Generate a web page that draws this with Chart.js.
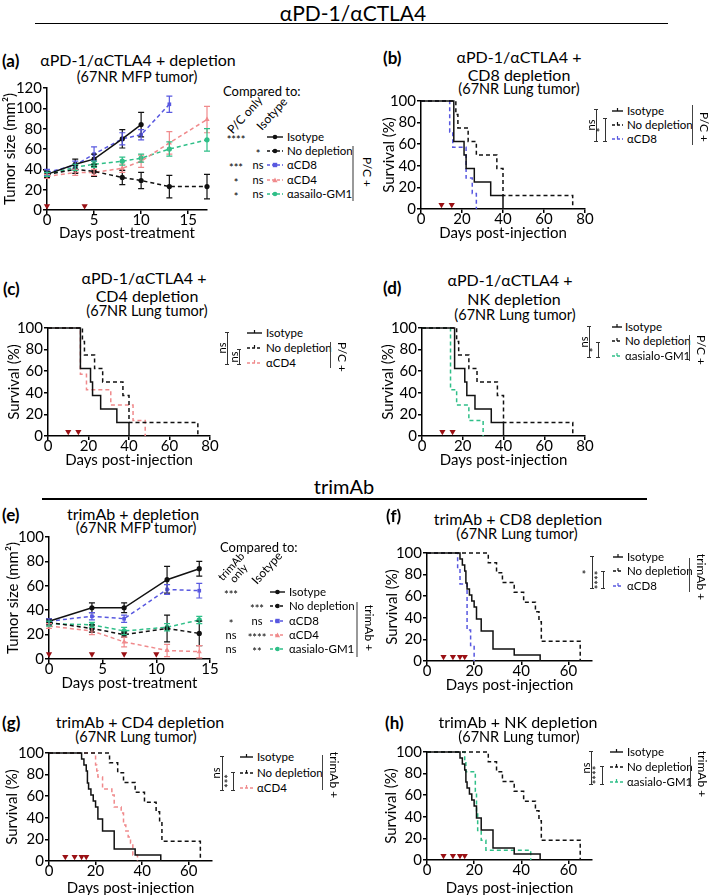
<!DOCTYPE html>
<html><head><meta charset="utf-8">
<script src="https://cdn.jsdelivr.net/npm/chart.js"></script>
<style>
html,body{margin:0;padding:0;background:#fff;overflow:hidden}
#fig{position:relative;width:709px;height:895px;overflow:hidden;font-family:Lato,"Open Sans",sans-serif;color:#000}
.t{position:absolute;white-space:nowrap;line-height:1;}
.cv{position:absolute}
.ln{position:absolute}
</style></head><body><div id="fig"></div>
<script>
// ================= DATA =================
// Panel (a): aPD-1/aCTLA4 + depletion, 67NR MFP tumour size (mm^2) vs days post-treatment
const aDays = [0, 3, 5, 8, 10, 13, 17];
const aIsotype = [35, 45, 50, 70, 84];
const aIsotypeSem = [3, 5, 5, 9, 12];
const aNoDepletion = [35, 40, 38, 32, 29, 23, 23];
const aNoDepletionSem = [3, 4, 5, 7, 8, 11, 12];
const aCD8 = [37, 44, 55, 70, 74, 104];
const aCD8Sem = [3, 4, 7, 6, 5, 8];
const aCD4 = [33, 37, 37, 41, 48, 66, 89];
const aCD4Sem = [2, 3, 3, 4, 6, 11, 13];
const aAsialo = [35, 42, 45, 48, 51, 60, 69];
const aAsialoSem = [2, 3, 3, 4, 4, 7, 11];
const aDoseDays = [0, 4];
const aTicksX = [0, 5, 10, 15];
const aTicksY = [0, 20, 40, 60, 80, 100, 120];

// Panel (e): trimAb + depletion, 67NR MFP tumour size
const eDays = [0, 4, 7, 11, 14];
const eIsotype = [31, 42, 42, 65, 74];
const eIsotypeSem = [2, 4, 4, 11, 6];
const eNoDepletion = [30, 25, 20, 25, 21];
const eNoDepletionSem = [2, 3, 2, 11, 10];
const eCD8 = [31, 35, 33, 57, 56];
const eCD8Sem = [2, 3, 3, 4, 6];
const eCD4 = [27, 23, 14, 7, 6];
const eCD4Sem = [2, 3, 4, 5, 5];
const eAsialo = [29, 28, 23, 26, 32];
const eAsialoSem = [2, 2, 3, 3, 3];
const eDoseDays = [0, 4, 7, 10];
const eTicksX = [0, 5, 10, 15];
const eTicksY = [0, 20, 40, 60, 80, 100];

// Survival (Kaplan-Meier) – aPD-1/aCTLA4 groups (panels b, c, d)
const pcIsotypeDays = [0, 16, 21, 22, 26, 34, 40];
const pcIsotypeSurv = [100, 62.5, 50, 37.5, 25, 12.5, 0];
const pcNoDepDays = [0, 17, 18, 23, 27, 37, 40, 74];
const pcNoDepSurv = [100, 87.5, 75, 62.5, 50, 37.5, 12.5, 0];
const bCD8Days = [0, 14, 15.5, 22, 25, 27];
const bCD8Surv = [100, 71.4, 57.1, 28.6, 14.3, 0];
const cCD4Days = [0, 16, 19, 31, 42, 48];
const cCD4Surv = [100, 57.1, 42.9, 28.6, 14.3, 0];
const dAsialoDays = [0, 14, 17, 23, 30];
const dAsialoSurv = [100, 42.9, 28.6, 14.3, 0];
const pcDoseDays = [10, 15];
const pcTicksX = [0, 20, 40, 60, 80];

// Survival – trimAb groups (panels f, g, h)
const tIsotypeDays = [0, 14, 15, 16, 16.5, 17, 18, 19, 20, 21, 23, 28, 37, 48];
const tIsotypeSurv = [100, 94.4, 88.9, 83.3, 72.2, 66.7, 61.1, 55.6, 50, 38.9, 27.8, 11.1, 5.6, 0];
const tNoDepDays = [0, 26, 29.5, 32, 37, 41, 46, 47.5, 48.5, 65];
const tNoDepSurv = [100, 90.9, 81.8, 72.7, 63.6, 54.5, 45.5, 36.4, 18.2, 0];
const fCD8Days = [0, 13, 14, 17, 17, 17, 18.5, 20];
const fCD8Surv = [100, 85.7, 71.4, 57.1, 42.9, 28.6, 14.3, 0];
const gCD4Days = [0, 20, 20.5, 21, 23, 27, 28, 31, 32, 33, 34, 35, 36, 38];
const gCD4Surv = [100, 88.9, 83.3, 77.8, 66.7, 61.1, 50, 44.4, 33.3, 27.8, 22.2, 16.7, 5.6, 0];
const hAsialoDays = [0, 16, 16.5, 20.5, 21, 21.5, 23, 25, 44];
const hAsialoSurv = [100, 90.9, 81.8, 63.6, 45.5, 27.3, 18.2, 9.1, 0];
const tDoseDays = [7, 11, 14, 16];
const tTicksX = [0, 20, 40, 60];
const kmTicksY = [0, 20, 40, 60, 80, 100];

// ================= STYLE =================
const BLACK = '#111111', BLUE = '#5858e0', PINK = '#f08a8c', GREEN = '#2fbf88', DRED = '#9a1014';
const TITLE = 16, SUB = 14.5, LEG = 11.5;
const fig = document.getElementById('fig');
Chart.defaults.font.family = 'Lato, "Open Sans", sans-serif';
Chart.defaults.color = '#000';

function txt(s, x, y, size, o = {}) {
  const d = document.createElement('div'); d.className = 't';
  if (o.html) d.innerHTML = s; else d.textContent = s;
  d.style.fontSize = size + 'px'; d.style.left = x + 'px'; d.style.top = y + 'px';
  if (o.bold) d.style.fontWeight = '700';
  if (o.lh) { d.style.lineHeight = o.lh; d.style.textAlign = 'center'; }
  const a = o.align || 'center';
  const tx = a === 'center' ? '-50%' : a === 'right' ? '-100%' : '0';
  d.style.transform = `translate(${tx},-50%)` + (o.rot ? ` rotate(${o.rot}deg)` : '');
  fig.appendChild(d); return d;
}
function rectEl(x, y, w, h, c) {
  const d = document.createElement('div'); d.className = 'ln';
  d.style.left = x + 'px'; d.style.top = y + 'px'; d.style.width = w + 'px'; d.style.height = h + 'px';
  d.style.background = c; fig.appendChild(d);
}
function hline(x1, x2, y, w, c) { rectEl(x1, y - w / 2, x2 - x1, w, c); }
function vline(x, y1, y2, w, c) { rectEl(x - w / 2, y1, w, y2 - y1, c); }
function bracket(x, y1, y2) { vline(x, y1, y2, 1, '#333'); hline(x - 2, x + 2, y1, 1, '#333'); hline(x - 2, x + 2, y2, 1, '#333'); }
function sample(x1, x2, y, color, dash, marker) {
  const w = x2 - x1, m = w / 2 + 3;
  let mk = '';
  if (marker === 'circle') mk = `<circle cx="${m}" cy="5" r="2.3" fill="${color}"/>`;
  else if (marker === 'rect') mk = `<rect x="${m - 2.2}" y="2.8" width="4.4" height="4.4" fill="${color}"/>`;
  else if (marker === 'triangle') mk = `<polygon points="${m - 2.6},7.2 ${m + 2.6},7.2 ${m},2.4" fill="${color}"/>`;
  else if (marker === 'tick') mk = `<line x1="${m}" y1="2" x2="${m}" y2="5" stroke="${color}" stroke-width="1.2"/>`;
  const s = `<svg width="${w + 6}" height="10" style="position:absolute;left:${x1 - 3}px;top:${y - 5}px;overflow:visible"><line x1="3" y1="5" x2="${w + 3}" y2="5" stroke="${color}" stroke-width="1.4" ${dash ? 'stroke-dasharray="3,2"' : ''}/>${mk}</svg>`;
  const d = document.createElement('div'); d.innerHTML = s; fig.appendChild(d.firstChild);
}

const errPlugin = {
  id: 'errbars',
  afterDatasetsDraw(chart) {
    const ctx = chart.ctx, ys = chart.scales.y;
    chart.data.datasets.forEach((ds, i) => {
      if (!ds.errors) return;
      const meta = chart.getDatasetMeta(i);
      meta.data.forEach((pt, j) => {
        const v = ds.data[j].y, e = ds.errors[j];
        const y1 = ys.getPixelForValue(v + e), y2 = ys.getPixelForValue(v - e);
        ctx.save(); ctx.strokeStyle = ds.borderColor; ctx.lineWidth = 1.2; ctx.setLineDash([]);
        ctx.beginPath();
        ctx.moveTo(pt.x, y1); ctx.lineTo(pt.x, y2);
        ctx.moveTo(pt.x - 3, y1); ctx.lineTo(pt.x + 3, y1);
        ctx.moveTo(pt.x - 3, y2); ctx.lineTo(pt.x + 3, y2);
        ctx.stroke(); ctx.restore();
      });
    });
  }
};

function scaleOpts(xMax, xT, yMax, yT, xTitle, yTitle, xH, yW) {
  const border = { display: true, color: '#000', width: 1.5 };
  const grid = { display: true, drawOnChartArea: false, drawTicks: true, tickLength: 4, color: '#000', lineWidth: 1.5 };
  return {
    x: { type: 'linear', min: 0, max: xMax, border, grid,
      afterBuildTicks: s => { s.ticks = xT.map(v => ({ value: v })); },
      afterFit: s => { s.height = xH; },
      ticks: { font: { size: 15 }, padding: -3, maxRotation: 0, autoSkip: false },
      title: { display: true, text: xTitle, font: { size: 15 }, padding: 0 } },
    y: { type: 'linear', min: 0, max: yMax, border, grid,
      afterBuildTicks: s => { s.ticks = yT.map(v => ({ value: v })); },
      afterFit: s => { s.width = yW; },
      ticks: { font: { size: 15 }, padding: 1, autoSkip: false },
      title: { display: true, text: yTitle, font: { size: 15 }, padding: 0 } }
  };
}

function makeChart(rect, plot, datasets, scales, plugins) {
  const w = rect[2] - rect[0], h = rect[3] - rect[1];
  const wrap = document.createElement('div'); wrap.className = 'cv';
  Object.assign(wrap.style, { left: rect[0] + 'px', top: rect[1] + 'px', width: w + 'px', height: h + 'px' });
  const cv = document.createElement('canvas'); cv.width = w; cv.height = h;
  cv.style.width = w + 'px'; cv.style.height = h + 'px';
  wrap.appendChild(cv); fig.appendChild(wrap);
  new Chart(cv, {
    type: 'line',
    data: { datasets },
    options: {
      responsive: false, animation: false, devicePixelRatio: 1,
      layout: { padding: { left: 0, top: plot[1] - rect[1], right: rect[2] - plot[2], bottom: 0 } },
      plugins: { legend: { display: false }, tooltip: { enabled: false } },
      scales
    },
    plugins: plugins || []
  });
}

function doseSet(days) {
  return { data: days.map(d => ({ x: d, y: 4 })), showLine: false, pointStyle: 'triangle', rotation: 180,
    pointRadius: 3.6, backgroundColor: DRED, borderColor: DRED, pointBorderWidth: 0, clip: false };
}
function tumorSet(days, vals, sem, color, dash, marker) {
  return { data: vals.map((v, i) => ({ x: days[i], y: v })), errors: sem,
    borderColor: color, backgroundColor: color, pointBackgroundColor: color, borderWidth: 1.5,
    borderDash: dash ? [4, 3] : [], pointStyle: marker, pointRadius: marker === 'triangle' ? 3 : 2.6,
    pointBorderWidth: 0, tension: 0, clip: false };
}
function kmSet(days, surv, color, dash) {
  return { data: surv.map((v, i) => ({ x: days[i], y: v })), borderColor: color, borderWidth: 1.5,
    borderDash: dash ? [4, 3] : [], stepped: true, pointRadius: 0, fill: false, clip: false };
}

// ================= HEADERS =================
txt('αPD-1/αCTLA4', 353, 12, 21);
hline(35, 668, 23.5, 1.6, '#000');
txt('trimAb', 344, 486, 20);
hline(42, 647, 499, 1.6, '#000');

// ================= PANEL (a) =================
txt('(a)', 2, 60, 17, { bold: true, align: 'left' });
txt('αPD-1/αCTLA4 + depletion', 138, 60, TITLE);
txt('(67NR MFP tumor)', 137, 77, SUB);
makeChart([1, 76, 222, 242], [47, 88, 207, 210], [
  doseSet(aDoseDays),
  tumorSet(aDays, aIsotype, aIsotypeSem, BLACK, false, 'circle'),
  tumorSet(aDays, aNoDepletion, aNoDepletionSem, BLACK, true, 'circle'),
  tumorSet(aDays, aCD8, aCD8Sem, BLUE, true, 'rect'),
  tumorSet(aDays, aCD4, aCD4Sem, PINK, true, 'triangle'),
  tumorSet(aDays, aAsialo, aAsialoSem, GREEN, true, 'circle')
], scaleOpts(17, aTicksX, 120, aTicksY, 'Days post-treatment', 'Tumor size (mm²)', 32, 46), [errPlugin]);
txt('Compared to:', 223, 91, 13, { align: 'left' });
txt('P/C only', 245, 115, 12, { rot: -48 });
txt('Isotype', 272, 114, 12, { rot: -48 });
(function () {
  const ys = [137, 151, 165, 180, 194];
  const c1 = ['****', '', '***', '*', '*'], c2 = ['', '*', 'ns', 'ns', 'ns'];
  const labs = ['Isotype', 'No depletion', 'αCD8', 'αCD4', 'αasailo-GM1'];
  const cols = [BLACK, BLACK, BLUE, PINK, GREEN], dash = [false, true, true, true, true];
  const mk = ['circle', 'circle', 'rect', 'triangle', 'circle'];
  ys.forEach((y, i) => {
    if (c1[i]) txt(c1[i], 236, y + (c1[i] === 'ns' ? -1 : 2), 11);
    if (c2[i]) txt(c2[i], 258, y + (c2[i] === 'ns' ? -1 : 2), 11);
    sample(267, 283, y, cols[i], dash[i], mk[i]);
    txt(labs[i], 287, y, LEG, { align: 'left' });
  });
  vline(353, 146, 201, 1.2, '#999');
  txt('P/C +', 367, 172, 12, { rot: 90 });
})();

// ================= KM legend helper =================
function kmLegend(ys, sx1, sx2, lx, labs, cols, dashes, br1, br2, bar, sideTxt) {
  ys.forEach((y, i) => { sample(sx1, sx2, y, cols[i], dashes[i], 'tick'); txt(labs[i], lx, y, LEG, { align: 'left' }); });
  bracket(br1.x, br1.y1, br1.y2); txt(br1.t, br1.tx, (br1.y1 + br1.y2) / 2, 11, { rot: -90 });
  bracket(br2.x, br2.y1, br2.y2); txt(br2.t, br2.tx, (br2.y1 + br2.y2) / 2, 11, { rot: -90 });
  vline(bar.x, bar.y1, bar.y2, 1, '#444');
  txt(sideTxt, bar.x + 12, (bar.y1 + bar.y2) / 2 + 2, 12, { rot: 90 });
}

// ================= PANEL (b) =================
txt('(b)', 383, 57, 17, { bold: true, align: 'left' });
txt('αPD-1/αCTLA4 +', 519, 57, TITLE);
txt('CD8 depletion', 519, 75, TITLE);
txt('(67NR Lung tumor)', 519, 89, SUB);
makeChart([380, 89, 600, 242], [421, 101, 585, 209], [
  doseSet(pcDoseDays),
  kmSet(pcIsotypeDays, pcIsotypeSurv, BLACK, false),
  kmSet(pcNoDepDays, pcNoDepSurv, BLACK, true),
  kmSet(bCD8Days, bCD8Surv, BLUE, true)
], scaleOpts(80, pcTicksX, 100, kmTicksY, 'Days post-injection', 'Survival (%)', 33, 41));
kmLegend([111, 125, 139], 612, 623, 627, ['Isotype', 'No depletion', 'αCD8'], [BLACK, BLACK, BLUE], [false, true, true],
  { x: 596, y1: 109, y2: 141, t: 'ns', tx: 590 }, { x: 605, y1: 118, y2: 141, t: '*', tx: 600 },
  { x: 692, y1: 105, y2: 145 }, 'P/C +');

// ================= PANEL (c) =================
txt('(c)', 3, 288, 17, { bold: true, align: 'left' });
txt('αPD-1/αCTLA4 +', 144, 278, TITLE);
txt('CD4 depletion', 147, 296, TITLE);
txt('(67NR Lung tumor)', 147, 311, SUB);
makeChart([5, 316, 225, 469], [48, 328, 210, 436], [
  doseSet(pcDoseDays),
  kmSet(pcIsotypeDays, pcIsotypeSurv, BLACK, false),
  kmSet(pcNoDepDays, pcNoDepSurv, BLACK, true),
  kmSet(cCD4Days, cCD4Surv, PINK, true)
], scaleOpts(80, pcTicksX, 100, kmTicksY, 'Days post-injection', 'Survival (%)', 33, 43));
kmLegend([333, 348, 363], 247, 262, 266, ['Isotype', 'No depletion', 'αCD4'], [BLACK, BLACK, PINK], [false, true, true],
  { x: 227, y1: 332, y2: 364, t: 'ns', tx: 221 }, { x: 239, y1: 349, y2: 364, t: 'ns', tx: 233 },
  { x: 330, y1: 342, y2: 368 }, 'P/C +');

// ================= PANEL (d) =================
txt('(d)', 383, 287, 17, { bold: true, align: 'left' });
txt('αPD-1/αCTLA4 +', 510, 280, TITLE);
txt('NK depletion', 514, 299, TITLE);
txt('(67NR Lung tumor)', 515, 315, SUB);
makeChart([379, 316, 600, 469], [422, 328, 585, 436], [
  doseSet(pcDoseDays),
  kmSet(pcIsotypeDays, pcIsotypeSurv, BLACK, false),
  kmSet(pcNoDepDays, pcNoDepSurv, BLACK, true),
  kmSet(dAsialoDays, dAsialoSurv, GREEN, true)
], scaleOpts(80, pcTicksX, 100, kmTicksY, 'Days post-injection', 'Survival (%)', 33, 43));
kmLegend([327, 341, 356], 612, 622, 625, ['Isotype', 'No depletion', 'αasialo-GM1'], [BLACK, BLACK, GREEN], [false, true, true],
  { x: 589, y1: 326, y2: 357, t: 'ns', tx: 583 }, { x: 598, y1: 342, y2: 357, t: '*', tx: 593 },
  { x: 689, y1: 335, y2: 361 }, 'P/C +');

// ================= PANEL (e) =================
txt('(e)', 2, 514, 17, { bold: true, align: 'left' });
txt('trimAb + depletion', 133, 514, TITLE);
txt('(67NR MFP tumor)', 136, 528, SUB);
makeChart([4, 525, 225, 692], [49, 537, 210, 659], [
  doseSet(eDoseDays),
  tumorSet(eDays, eIsotype, eIsotypeSem, BLACK, false, 'circle'),
  tumorSet(eDays, eNoDepletion, eNoDepletionSem, BLACK, true, 'circle'),
  tumorSet(eDays, eCD8, eCD8Sem, BLUE, true, 'rect'),
  tumorSet(eDays, eCD4, eCD4Sem, PINK, true, 'triangle'),
  tumorSet(eDays, eAsialo, eAsialoSem, GREEN, true, 'circle')
], scaleOpts(15, eTicksX, 100, eTicksY, 'Days post-treatment', 'Tumor size (mm²)', 33, 45), [errPlugin]);
txt('Compared to:', 220, 547, 13, { align: 'left' });
txt('trimAb<br>only', 235, 570, 11, { rot: -48, html: true, lh: '0.95' });
txt('Isotype', 267, 568, 12, { rot: -48 });
(function () {
  const ys = [592, 606, 621, 635, 649];
  const c1 = ['***', '', '*', 'ns', 'ns'], c2 = ['', '***', 'ns', '****', '**'];
  const labs = ['Isotype', 'No depletion', 'αCD8', 'αCD4', 'αasialo-GM1'];
  const cols = [BLACK, BLACK, BLUE, PINK, GREEN], dash = [false, true, true, true, true];
  const mk = ['circle', 'circle', 'rect', 'triangle', 'circle'];
  ys.forEach((y, i) => {
    if (c1[i]) txt(c1[i], 231, y + (c1[i] === 'ns' ? -1 : 2), 11);
    if (c2[i]) txt(c2[i], 257, y + (c2[i] === 'ns' ? -1 : 2), 11);
    sample(270, 285, y, cols[i], dash[i], mk[i]);
    txt(labs[i], 289, y, LEG, { align: 'left' });
  });
  vline(357, 602, 657, 1.2, '#999');
  txt('trimAb +', 369, 628, 12, { rot: 90 });
})();

// ================= PANEL (f) =================
txt('(f)', 386, 515, 17, { bold: true, align: 'left' });
txt('trimAb + CD8 depletion', 518, 519, TITLE);
txt('(67NR Lung tumor)', 517, 534, SUB);
makeChart([383, 541, 607, 694], [427, 553, 592, 661], [
  doseSet(tDoseDays),
  kmSet(tIsotypeDays, tIsotypeSurv, BLACK, false),
  kmSet(tNoDepDays, tNoDepSurv, BLACK, true),
  kmSet(fCD8Days, fCD8Surv, BLUE, true)
], scaleOpts(70, tTicksX, 100, kmTicksY, 'Days post-injection', 'Survival (%)', 33, 44));
kmLegend([557, 571, 586], 613, 623, 627, ['Isotype', 'No depletion', 'αCD8'], [BLACK, BLACK, BLUE], [false, true, true],
  { x: 592, y1: 556, y2: 588, t: '*', tx: 586 }, { x: 603, y1: 571, y2: 588, t: '****', tx: 598 },
  { x: 689, y1: 558, y2: 592 }, 'trimAb +');

// ================= PANEL (g) =================
txt('(g)', 2, 722, 17, { bold: true, align: 'left' });
txt('trimAb + CD4 depletion', 140, 722, TITLE);
txt('(67NR Lung tumor)', 136, 737, SUB);
makeChart([3, 741, 227, 897], [49, 753, 212, 861], [
  doseSet(tDoseDays),
  kmSet(tIsotypeDays, tIsotypeSurv, BLACK, false),
  kmSet(tNoDepDays, tNoDepSurv, BLACK, true),
  kmSet(gCD4Days, gCD4Surv, PINK, true)
], scaleOpts(70, tTicksX, 100, kmTicksY, 'Days post-injection', 'Survival (%)', 36, 46));
kmLegend([757, 773, 788], 240, 253, 257, ['Isotype', 'No depletion', 'αCD4'], [BLACK, BLACK, PINK], [false, true, true],
  { x: 222, y1: 756, y2: 790, t: 'ns', tx: 215 }, { x: 233, y1: 772, y2: 790, t: '***', tx: 228 },
  { x: 322, y1: 755, y2: 790 }, 'trimAb +');

// ================= PANEL (h) =================
txt('(h)', 385, 722, 17, { bold: true, align: 'left' });
txt('trimAb + NK depletion', 518, 722, TITLE);
txt('(67NR Lung tumor)', 519, 737, SUB);
makeChart([382, 740, 607, 897], [427, 752, 592, 860], [
  doseSet(tDoseDays),
  kmSet(tIsotypeDays, tIsotypeSurv, BLACK, false),
  kmSet(tNoDepDays, tNoDepSurv, BLACK, true),
  kmSet(hAsialoDays, hAsialoSurv, GREEN, true)
], scaleOpts(70, tTicksX, 100, kmTicksY, 'Days post-injection', 'Survival (%)', 37, 45));
kmLegend([752, 767, 782], 610, 623, 627, ['Isotype', 'No depletion', 'αasialo-GM1'], [BLACK, BLACK, GREEN], [false, true, true],
  { x: 591, y1: 751, y2: 784, t: 'ns', tx: 585 }, { x: 602, y1: 766, y2: 784, t: '****', tx: 596 },
  { x: 690, y1: 757, y2: 787 }, 'trimAb +');
</script></body></html>
